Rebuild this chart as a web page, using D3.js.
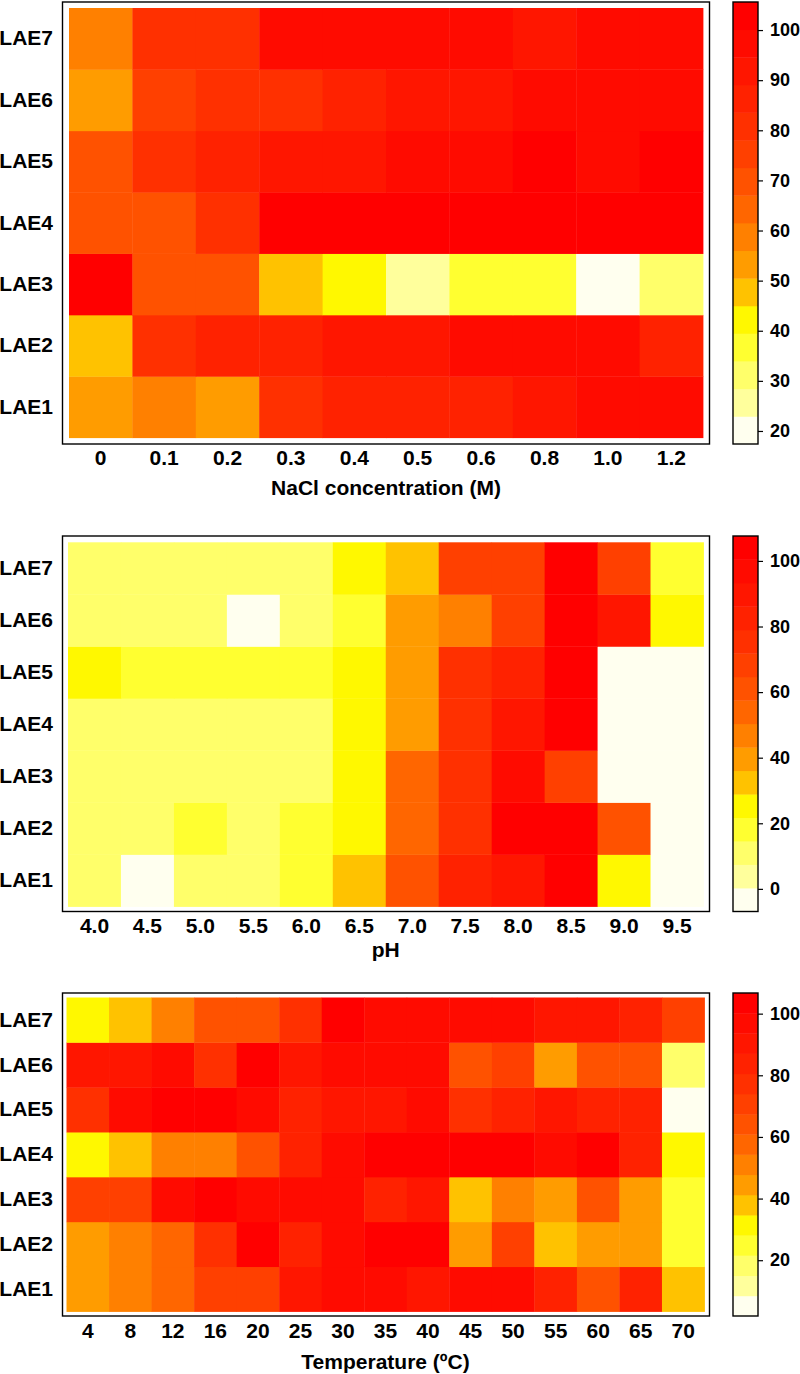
<!DOCTYPE html>
<html><head><meta charset="utf-8">
<script src="https://cdn.jsdelivr.net/npm/d3@7"></script>
<style>
body{margin:0;background:#fff;}
svg{display:block;}
text{font-family:"Liberation Sans",Arial,Helvetica,sans-serif;font-weight:bold;fill:#000;}
</style>
</head><body>
<svg id="chart" width="800" height="1374"></svg>
<script>
// ---------------- DATA ----------------
const strains = ["LAE1","LAE2","LAE3","LAE4","LAE5","LAE6","LAE7"];

const naclLevels = ["0","0.1","0.2","0.3","0.4","0.5","0.6","0.8","1.0","1.2"];
const naclValues = [ // rows LAE1..LAE7 (relative activity, %)
  [53,59,53,81,86,86,86,92,97,97],
  [48,81,86,86,92,92,97,97,97,86],
  [103,70,70,48,42,26,37,37,17.4,31],
  [70,70,81,105.6,103,103,103,103,103,103],
  [70,81,86,92,92,97,97,103,97,103],
  [53,75,81,81,86,92,92,97,97,97],
  [59,81,81,97,97,97,97,92,97,97]
];
const naclTicks = [20,30,40,50,60,70,80,90,100];
const naclTitle = "NaCl concentration (M)";

const phLevels = ["4.0","4.5","5.0","5.5","6.0","6.5","7.0","7.5","8.0","8.5","9.0","9.5"];
const phValues = [
  [11,-3,11,11,18,32,61,83,90,104,25,-3],
  [11,11,18,11,18,25,54,75,104,104,61,-3],
  [11,11,11,11,11,25,54,75,97,68,-3,-3],
  [11,11,11,11,11,25,40,75,90,104,-3,-3],
  [25,18,18,18,18,25,40,75,83,104,-6.9,-3],
  [11,11,11,-3,11,18,40,47,68,104,90,25],
  [11,11,11,11,11,25,32,68,68,107.6,68,18]
];
const phTicks = [0,20,40,60,80,100];
const phTitle = "pH";

const tempLevels = ["4","8","12","16","20","25","30","35","40","45","50","55","60","65","70"];
const tempValues = [
  [44,51,58,71,71,90,97,97,90,97,97,84,64,84,38],
  [44,51,58,77,103,84,97,103,103,44,71,38,44,44,25],
  [71,71,97,106.7,97,97,97,84,90,38,51,44,64,44,25],
  [31,38,51,51,64,84,97,103,103,103,103,97,103,84,31],
  [77,97,103,103,97,84,90,90,97,77,84,90,84,84,1.9],
  [90,90,97,77,103,90,97,97,97,64,71,44,64,64,18],
  [31,38,51,64,64,77,103,97,97,97,97,90,90,84,71]
];
const tempTicks = [20,40,60,80,100];
const tempTitle = "Temperature (\u00BAC)";

// 16-step palette, low -> high
const palette = ["#FFFFEF","#FFFF9C","#FFFF6A","#FFFF30","#FFF800","#FFC200","#FF9C00","#FF8000",
                 "#FF6600","#FF5200","#FF4000","#FF3000","#FF2200","#FF1600","#FF0B00","#FF0000"];

// ---------------- LAYOUT ----------------
const layouts = [
  {bx0:62.5,bx1:709.5,by0:2,by1:444, cx0:69,cx1:703,cy0:8,cy1:437.7, tickY:465, titleY:495},
  {bx0:62.5,bx1:709.5,by0:536,by1:911.5, cx0:68,cx1:703.5,cy0:542.3,cy1:906.5, tickY:933, titleY:957},
  {bx0:62.5,bx1:709.5,by0:993,by1:1316, cx0:66.5,cx1:704.5,cy0:997.5,cy1:1311.5, tickY:1338, titleY:1369}
];
const cbX0 = 733, cbX1 = 758;
const labelSize = "21px", cbLabelSize = "18px";

const svg = d3.select("#chart");

function drawPanel(L, levels, values, ticks, title) {
  const g = svg.append("g");
  const x = d3.scaleBand().domain(levels).range([L.cx0, L.cx1]);
  const y = d3.scaleBand().domain(strains).range([L.cy1, L.cy0]);
  const cells = values.flatMap((row, i) => row.map((v, j) => ({s: strains[i], l: levels[j], v})));
  const ext = d3.extent(cells, d => d.v);
  const color = d3.scaleQuantize().domain(ext).range(palette);

  g.append("g").selectAll("rect").data(cells).join("rect")
    .attr("x", d => x(d.l)).attr("y", d => y(d.s))
    .attr("width", x.bandwidth() + 0.4).attr("height", y.bandwidth() + 0.4)
    .attr("fill", d => color(d.v));

  g.append("rect")
    .attr("x", L.bx0).attr("y", L.by0)
    .attr("width", L.bx1 - L.bx0).attr("height", L.by1 - L.by0)
    .attr("fill", "none").attr("stroke", "#000").attr("stroke-width", 1.4);

  // y axis (strain labels)
  const ya = g.append("g").attr("transform", `translate(${L.bx0},0)`)
    .call(d3.axisLeft(y).tickSize(0).tickPadding(9.5));
  ya.select(".domain").remove();
  ya.selectAll("text").style("font-size", labelSize).attr("fill", "#000");

  // x axis (levels)
  const xa = g.append("g").attr("transform", `translate(0,${L.by1})`)
    .call(d3.axisBottom(x).tickSize(0));
  xa.select(".domain").remove();
  xa.selectAll("text").style("font-size", labelSize).attr("fill", "#000")
    .attr("y", L.tickY - L.by1).attr("dy", null);

  g.append("text").attr("x", (L.cx0 + L.cx1) / 2).attr("y", L.titleY)
    .attr("text-anchor", "middle").style("font-size", labelSize).text(title);

  // colour bar
  const cy = d3.scaleLinear().domain(ext).range([L.by1, L.by0]);
  const cb = g.append("g");
  cb.selectAll("rect").data(palette).join("rect")
    .attr("x", cbX0).attr("width", cbX1 - cbX0)
    .attr("y", c => cy(color.invertExtent(c)[1]))
    .attr("height", c => cy(color.invertExtent(c)[0]) - cy(color.invertExtent(c)[1]) + 0.4)
    .attr("fill", c => c);
  cb.append("rect").attr("x", cbX0).attr("y", L.by0)
    .attr("width", cbX1 - cbX0).attr("height", L.by1 - L.by0)
    .attr("fill", "none").attr("stroke", "#000").attr("stroke-width", 1.4);
  const ca = cb.append("g").attr("transform", `translate(${cbX1},0)`)
    .call(d3.axisRight(cy).tickValues(ticks).tickSize(5).tickPadding(7).tickFormat(d3.format("d")));
  ca.select(".domain").remove();
  ca.selectAll("line").attr("stroke", "#000").attr("stroke-width", 1.2);
  ca.selectAll("text").style("font-size", cbLabelSize).attr("fill", "#000");
}

drawPanel(layouts[0], naclLevels, naclValues, naclTicks, naclTitle);
drawPanel(layouts[1], phLevels, phValues, phTicks, phTitle);
drawPanel(layouts[2], tempLevels, tempValues, tempTicks, tempTitle);
</script>
</body></html>
